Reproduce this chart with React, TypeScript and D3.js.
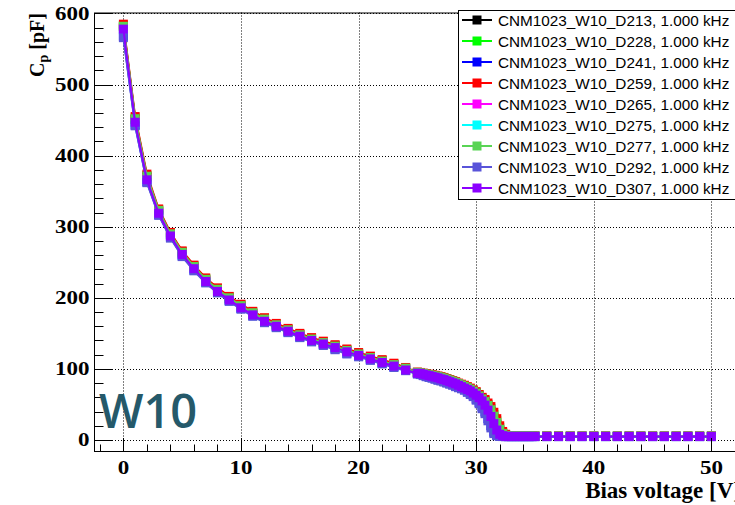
import React from 'react';
import * as d3 from 'd3';

// ---------- DATA ----------
const voltages = [
  0, 1, 2, 3, 4, 5, 6, 7, 8, 9, 10, 11, 12, 13, 14, 15, 16, 17, 18, 19, 20, 21, 22, 23, 24,
  25, 25.25, 25.5, 25.75, 26, 26.25, 26.5, 26.75, 27, 27.25, 27.5, 27.75, 28, 28.25, 28.5, 28.75,
  29, 29.25, 29.5, 29.75, 30, 30.25, 30.5, 30.75, 31, 31.25, 31.5, 31.75, 32, 32.25, 32.5, 32.75,
  33, 33.25, 33.5, 33.75, 34, 34.25, 34.5, 34.75, 35,
  36, 37, 38, 39, 40, 41, 42, 43, 44, 45, 46, 47, 48, 49, 50,
];

const seriesNames = [
  'CNM1023_W10_D213', 'CNM1023_W10_D228', 'CNM1023_W10_D241', 'CNM1023_W10_D259', 'CNM1023_W10_D265',
  'CNM1023_W10_D275', 'CNM1023_W10_D277', 'CNM1023_W10_D292', 'CNM1023_W10_D307',
];
const frequencyLabel = '1.000 kHz';
const seriesColors = ['#000000', '#00ff00', '#0000ff', '#ff0000', '#ff00ff', '#00ffff', '#59d454', '#5954d9', '#8b00ff'];

const cpD213 = [
  581, 451, 370, 322, 289, 263, 243, 225, 211, 199, 188, 178, 169, 162, 155, 148, 142, 137, 132, 126, 121, 116, 111, 106, 100.5,
  94.8, 94.2, 93.2, 92.4, 91.5, 90.6, 89.7, 88.7, 87.5, 86.5, 85, 83.5, 82, 80.5, 78.5, 76.8, 75, 73, 71, 68.2, 65.5, 61.8, 57.5, 53,
  47, 40, 31, 22, 14, 9, 6.6, 5.6, 5.3, 5.3, 5.3, 5.3, 5.3, 5.3, 5.3, 5.3, 5.3,
  5.3, 5.3, 5.3, 5.3, 5.3, 5.3, 5.3, 5.3, 5.3, 5.3, 5.3, 5.3, 5.3, 5.3, 5.3,
];
const cpD228 = [
  583, 453, 372, 324, 291, 265, 245, 227, 213, 201, 190, 180, 171, 163, 156, 149, 143, 138, 133, 127, 122, 117, 112, 107, 101.5,
  95.2, 94.6, 93.7, 92.9, 92.1, 91.3, 90.5, 89.5, 88.4, 87.4, 86, 84.5, 83, 81.4, 79.5, 77.8, 76, 74, 72, 69.5, 66.8, 63, 59, 55.5,
  50, 44.5, 36, 27, 17.5, 10.5, 7.2, 5.9, 5.5, 5.4, 5.4, 5.4, 5.4, 5.4, 5.4, 5.4, 5.4,
  5.4, 5.4, 5.4, 5.4, 5.4, 5.4, 5.4, 5.4, 5.4, 5.4, 5.4, 5.4, 5.4, 5.4, 5.4,
];
const cpD241 = [
  568, 443, 363, 317, 285, 259, 239, 222, 208, 196, 185, 175, 166, 159, 152, 145, 139, 134, 128, 122, 118, 113, 108, 103, 98,
  93.2, 92.4, 91, 89.6, 88.6, 87.6, 86.2, 84.8, 83.7, 82.3, 80.8, 79.3, 77.8, 75.9, 74.3, 72.7, 70.8, 68, 65.2, 62.2, 57.5, 52.8, 46.5, 39.5,
  30, 20, 11, 6.8, 5.3, 4.9, 4.8, 4.8, 4.8, 4.8, 4.8, 4.8, 4.8, 4.8, 4.8, 4.8, 4.8,
  4.8, 4.8, 4.8, 4.8, 4.8, 4.8, 4.8, 4.8, 4.8, 4.8, 4.8, 4.8, 4.8, 4.8, 4.8,
];
const cpD259 = [
  585, 455, 374, 325, 292, 266, 246, 228, 214, 202, 191, 181, 172, 164, 157, 150, 144, 139, 134, 128, 123, 118, 113, 108, 102,
  95.5, 95, 94, 93.2, 92.5, 91.8, 91, 90, 89, 88, 86.5, 85, 83.5, 82, 80, 78.5, 77, 75, 73, 70.5, 68, 64, 60, 57,
  52, 47, 39, 30, 20, 12, 8, 6, 5.6, 5.5, 5.5, 5.5, 5.5, 5.5, 5.5, 5.5, 5.5,
  5.5, 5.5, 5.5, 5.5, 5.5, 5.5, 5.5, 5.5, 5.5, 5.5, 5.5, 5.5, 5.5, 5.5, 5.5,
];
const cpD265 = [
  579, 449, 368, 320, 288, 262, 242, 224, 210, 198, 187, 177, 168, 161, 154, 147, 141, 136, 131, 125, 120, 115, 110, 105, 99.5,
  94.3, 93.8, 92.9, 91.9, 91, 90, 89, 88, 86.7, 85.7, 84.2, 82.7, 81.2, 79.7, 77.7, 75.8, 73.8, 71.8, 69.8, 67, 64, 60.5, 56.2, 50.5,
  43.8, 35.5, 25.5, 16.5, 9.5, 6.6, 5.5, 5.2, 5.1, 5.1, 5.1, 5.1, 5.1, 5.1, 5.1, 5.1, 5.1,
  5.1, 5.1, 5.1, 5.1, 5.1, 5.1, 5.1, 5.1, 5.1, 5.1, 5.1, 5.1, 5.1, 5.1, 5.1,
];
const cpD275 = [
  577, 446, 365, 318, 286, 260, 240, 222, 208, 196, 185, 175, 166, 159, 152, 145, 139, 134, 129, 123, 118, 113, 108, 103, 98,
  93.8, 93.2, 92.2, 91.2, 90.2, 89.2, 88.2, 87.2, 85.7, 84.6, 83.1, 81.6, 80.1, 78.5, 76.5, 74.5, 72.4, 70.3, 68.2, 65.2, 62, 58.4, 53.6, 47.4,
  40, 31, 21, 12.5, 7.3, 5.7, 5.1, 5, 5, 5, 5, 5, 5, 5, 5, 5, 5,
  5, 5, 5, 5, 5, 5, 5, 5, 5, 5, 5, 5, 5, 5, 5,
];
const cpD277 = [
  582, 452, 371, 323, 290, 264, 244, 226, 212, 200, 189, 179, 170, 162, 155, 148, 142, 137, 132, 126, 121, 116, 111, 106, 101,
  95, 94.5, 93.5, 92.6, 91.8, 91, 90.2, 89.2, 88.1, 87.1, 85.7, 84.2, 82.7, 81.1, 79.2, 77.5, 75.7, 73.6, 71.5, 68.8, 66, 62, 57.8, 54,
  48.5, 42.5, 33.5, 24.5, 15, 9, 6.6, 5.7, 5.4, 5.4, 5.4, 5.4, 5.4, 5.4, 5.4, 5.4, 5.4,
  5.4, 5.4, 5.4, 5.4, 5.4, 5.4, 5.4, 5.4, 5.4, 5.4, 5.4, 5.4, 5.4, 5.4, 5.4,
];
const cpD292 = [
  566, 442, 362, 316, 284, 258, 238, 221, 207, 195, 184, 174, 165, 158, 151, 144, 138, 133, 127, 121, 117, 112, 107, 102, 97.5,
  93, 92, 90.5, 89, 88, 87, 85.5, 84, 83, 81.5, 80, 78.5, 77, 75, 73.5, 72, 70, 67, 64, 61, 56, 51, 44, 37,
  27, 17, 9, 6, 5, 4.8, 4.7, 4.7, 4.7, 4.7, 4.7, 4.7, 4.7, 4.7, 4.7, 4.7, 4.7,
  4.7, 4.7, 4.7, 4.7, 4.7, 4.7, 4.7, 4.7, 4.7, 4.7, 4.7, 4.7, 4.7, 4.7, 4.7,
];
const cpD307 = [
  578, 447, 366, 319, 287, 261, 241, 223, 209, 197, 186, 176, 167, 160, 153, 146, 140, 135, 130, 124, 119, 114, 109, 104, 98.5,
  94, 93.5, 92.5, 91.5, 90.5, 89.5, 88.5, 87.5, 86, 85, 83.5, 82, 80.5, 79, 77, 75, 73, 71, 69, 66, 63, 59.5, 55, 49,
  42, 33, 23, 14, 8, 6, 5.2, 5.1, 5, 5, 5, 5, 5, 5, 5, 5, 5,
  5, 5, 5, 5, 5, 5, 5, 5, 5, 5, 5, 5, 5, 5, 5,
];
const seriesValues = [cpD213, cpD228, cpD241, cpD259, cpD265, cpD275, cpD277, cpD292, cpD307];

const xMajorTicks = [0, 10, 20, 30, 40, 50];
const yMajorTicks = [0, 100, 200, 300, 400, 500, 600];
const xTitle = 'Bias voltage [V]';
const waferLabel = 'W10';

// ---------- LAYOUT ----------
const W = 735;
const H = 505;
const xDomain = [-2.5, 52.5];
const yDomain = [-15.5, 601.4];
const frameLeft = 94;
const frameRight = 740.8;
const frameTop = 12.5;
const frameBottom = 451;

const serif = '"Liberation Serif", "Times New Roman", Times, serif';
const sans = '"Liberation Sans", Arial, Helvetica, sans-serif';

export default function App() {
  const x = d3.scaleLinear().domain(xDomain).range([frameLeft, frameRight]);
  const y = d3.scaleLinear().domain(yDomain).range([frameBottom, frameTop]);

  const xMinor = d3.range(-2, 53, 2).filter((v) => v % 10 !== 0);
  const yMinor = d3.range(0, 601, 20).filter((v) => v % 100 !== 0);

  const line = d3
    .line<[number, number]>()
    .x((d) => x(d[0]))
    .y((d) => y(d[1]));

  const marker = 9;
  const xMajLen = 13;
  const xMinLen = 6.5;
  const yMajLen = 19;
  const yMinLen = 9.5;

  const legendX = 458;
  const legendTop = 10;
  const legendBottom = 199;
  const rowY = (i: number) => 20 + i * 21;

  return (
    <svg
      width={W}
      height={H}
      viewBox={`0 0 ${W} ${H}`}
      style={{ position: 'absolute', left: 0, top: 0, background: '#fff' }}
    >
      <rect x={0} y={0} width={W} height={H} fill="#fff" />
      {/* grid */}
      <g stroke="#000" strokeWidth={1} strokeDasharray="1 2">
        {xMajorTicks.map((t) => (
          <line key={'gx' + t} x1={Math.round(x(t)) + 0.5} x2={Math.round(x(t)) + 0.5} y1={frameTop} y2={frameBottom} />
        ))}
        {yMajorTicks.map((t) => (
          <line key={'gy' + t} x1={frameLeft} x2={frameRight} y1={Math.round(y(t)) + 0.5} y2={Math.round(y(t)) + 0.5} />
        ))}
      </g>

      {/* data */}
      <g clipPath="url(#frameClip)">
        {seriesValues.map((vals, si) => {
          const pts: [number, number][] = voltages.map((v, i) => [v, vals[i]]);
          return (
            <g key={seriesNames[si]}>
              <path d={line(pts) || ''} fill="none" stroke={seriesColors[si]} strokeWidth={2} />
              {pts.map((p, i) => (
                <rect
                  key={i}
                  x={x(p[0]) - marker / 2}
                  y={y(p[1]) - marker / 2}
                  width={marker}
                  height={marker}
                  fill={seriesColors[si]}
                />
              ))}
            </g>
          );
        })}
      </g>
      <defs>
        <clipPath id="frameClip">
          <rect x={frameLeft} y={frameTop} width={frameRight - frameLeft} height={frameBottom - frameTop} />
        </clipPath>
      </defs>

      {/* frame */}
      <rect
        x={frameLeft + 0.5}
        y={frameTop + 0.5}
        width={frameRight - frameLeft}
        height={frameBottom - frameTop}
        fill="none"
        stroke="#000"
        strokeWidth={1}
      />

      {/* x ticks */}
      <g stroke="#000" strokeWidth={1}>
        {xMajorTicks.map((t) => (
          <line key={'xt' + t} x1={Math.round(x(t)) + 0.5} x2={Math.round(x(t)) + 0.5} y1={frameBottom} y2={frameBottom - xMajLen} />
        ))}
        {xMinor.map((t) => (
          <line key={'xm' + t} x1={Math.round(x(t)) + 0.5} x2={Math.round(x(t)) + 0.5} y1={frameBottom} y2={frameBottom - xMinLen} />
        ))}
        {yMajorTicks.map((t) => (
          <line key={'yt' + t} x1={frameLeft} x2={frameLeft + yMajLen} y1={Math.round(y(t)) + 0.5} y2={Math.round(y(t)) + 0.5} />
        ))}
        {yMinor.map((t) => (
          <line key={'ym' + t} x1={frameLeft} x2={frameLeft + yMinLen} y1={Math.round(y(t)) + 0.5} y2={Math.round(y(t)) + 0.5} />
        ))}
      </g>

      {/* tick labels */}
      <g fontFamily={serif} fontWeight="bold" fontSize={19} fill="#000">
        {xMajorTicks.map((t) => {
          const s = String(t);
          return (
            <text key={'xl' + t} x={x(t)} y={474} textAnchor="middle" textLength={11.5 * s.length} lengthAdjust="spacingAndGlyphs">
              {s}
            </text>
          );
        })}
        {yMajorTicks.map((t) => {
          const s = String(t);
          return (
            <text key={'yl' + t} x={89.5} y={y(t) + 6.5} textAnchor="end" textLength={11.5 * s.length} lengthAdjust="spacingAndGlyphs">
              {s}
            </text>
          );
        })}
      </g>

      {/* axis titles */}
      <text x={741} y={498} textAnchor="end" fontFamily={serif} fontWeight="bold" fontSize={23} fill="#000">
        {xTitle}
      </text>
      <text
        transform="translate(44, 13) rotate(-90)"
        textAnchor="end"
        fontFamily={serif}
        fontWeight="bold"
        fontSize={20}
        fill="#000"
      >
        C
        <tspan fontSize={14} dy={4}>p</tspan>
        <tspan dy={-4}> [pF]</tspan>
      </text>

      {/* wafer label */}
      <text x={99} y={428} fontFamily={'"Open Sans", sans-serif'} fontWeight={600} fontSize={47} fill="#25596a">
        {waferLabel}
      </text>

      {/* legend */}
      <rect x={legendX + 0.5} y={legendTop + 0.5} width={W} height={legendBottom - legendTop} fill="#fff" stroke="#000" strokeWidth={1} />
      {seriesNames.map((name, i) => (
        <g key={'lg' + name}>
          <line x1={462} x2={492} y1={rowY(i)} y2={rowY(i)} stroke={seriesColors[i]} strokeWidth={2} />
          <rect x={477 - marker / 2} y={rowY(i) - marker / 2} width={marker} height={marker} fill={seriesColors[i]} />
          <text x={498} y={rowY(i) + 5.5} fontFamily={sans} fontSize={15.3} fill="#000">
            {`${name}, ${frequencyLabel}`}
          </text>
        </g>
      ))}
    </svg>
  );
}
